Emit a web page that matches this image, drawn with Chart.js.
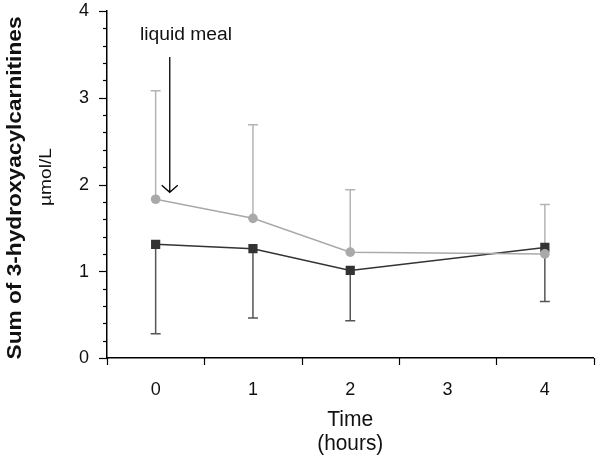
<!DOCTYPE html>
<html><head><meta charset="utf-8">
<script src="https://cdn.jsdelivr.net/npm/chart.js@4"></script>
<style>html,body{margin:0;padding:0;background:#fff}#wrap{width:600px;height:458px}</style>
</head><body><div id="wrap"><canvas id="c" width="600" height="458"></canvas></div>
<script>
// ---- data ----
const timePoints = [0, 1, 2, 4];
const grayMeans  = [1.83, 1.61, 1.22, 1.20];
const grayUpper  = [3.08, 2.69, 1.94, 1.77];
const blackMeans = [1.31, 1.26, 1.01, 1.275];
const blackLower = [0.28, 0.46, 0.43, 0.65];
const xTickValues = [0, 1, 2, 3, 4];
const xTickLabels = ['0', '1', '2', '3', '4'];
const yTickValues = [0, 1, 2, 3, 4];
const yTickLabels = ['0', '1', '2', '3', '4'];
const yMinorStep = 0.2;
const xBoundaryTicks = [-0.5, 0.5, 1.5, 2.5, 3.5, 4.5];
const annotationText = 'liquid meal';
const annotationX = 0.145, annotationYTop = 3.47, annotationYTip = 1.91;

const GRAY = '#a9a9a9', GRAY_BAR = '#b4b4b4';
const BLACK = '#333333', BLACK_BAR = '#555555';

const pts = (xs, ys) => xs.map((x, i) => ({x, y: ys[i]}));

// draws text centred on cx, baseline at by, stretched to targetW
function fitText(ctx, text, cx, by, targetW, rotate) {
  ctx.save();
  ctx.translate(cx, by);
  if (rotate) ctx.rotate(-Math.PI / 2);
  const w = ctx.measureText(text).width;
  ctx.scale(targetW / w, 1);
  ctx.textAlign = 'center'; ctx.textBaseline = 'alphabetic';
  ctx.fillText(text, 0, 0);
  ctx.restore();
}

const extras = {
  id: 'extras',
  beforeDatasetsDraw(chart) {
    const {ctx, scales: {x, y}} = chart;
    ctx.save();
    ctx.lineWidth = 1.5;
    const bar = (xv, y0, y1, col) => {
      const px = x.getPixelForValue(xv), p0 = y.getPixelForValue(y0), p1 = y.getPixelForValue(y1);
      ctx.strokeStyle = col;
      ctx.beginPath(); ctx.moveTo(px, p0); ctx.lineTo(px, p1);
      ctx.moveTo(px - 5, p1); ctx.lineTo(px + 5, p1); ctx.stroke();
    };
    timePoints.forEach((t, i) => bar(t, grayMeans[i], grayUpper[i], GRAY_BAR));
    timePoints.forEach((t, i) => bar(t, blackMeans[i], blackLower[i], BLACK_BAR));
    ctx.restore();
  },
  afterDraw(chart) {
    const {ctx, scales: {x, y}} = chart;
    ctx.save();
    ctx.strokeStyle = '#000'; ctx.lineWidth = 1.2;
    // y ticks
    const ax = x.left;
    for (let v = 0; v <= 4.0001; v += yMinorStep) {
      const py = Math.round(y.getPixelForValue(v)) + 0.5;
      const major = Math.abs(v - Math.round(v)) < 1e-6;
      ctx.beginPath(); ctx.moveTo(ax, py); ctx.lineTo(ax - (major ? 8 : 4), py); ctx.stroke();
    }
    // y tick labels
    ctx.fillStyle = '#111';
    ctx.font = '18px "Liberation Sans"';
    ctx.textAlign = 'right'; ctx.textBaseline = 'middle';
    yTickValues.forEach((v, i) => ctx.fillText(yTickLabels[i], ax - 18, y.getPixelForValue(v) + 0.5));
    // x ticks
    const ay = y.bottom;
    xBoundaryTicks.forEach(v => {
      const px = Math.round(x.getPixelForValue(v)) + 0.5;
      ctx.beginPath(); ctx.moveTo(px, ay); ctx.lineTo(px, ay + 7); ctx.stroke();
    });
    // annotation arrow
    const axp = x.getPixelForValue(annotationX);
    const yTop = y.getPixelForValue(annotationYTop), yTip = y.getPixelForValue(annotationYTip);
    ctx.lineWidth = 1.3;
    ctx.beginPath(); ctx.moveTo(axp, yTop); ctx.lineTo(axp, yTip);
    ctx.moveTo(axp - 8, yTip - 7); ctx.lineTo(axp, yTip); ctx.lineTo(axp + 8, yTip - 7);
    ctx.stroke();
    ctx.font = '18px "Liberation Sans"';
    fitText(ctx, annotationText, 186, 40, 92, false);
    // x title
    ctx.font = '22px "Liberation Sans"';
    const cx = x.getPixelForValue(2);
    fitText(ctx, 'Time', cx, 426, 46, false);
    fitText(ctx, '(hours)', cx, 450, 66, false);
    // y title
    ctx.font = 'bold 21px "Liberation Sans"';
    fitText(ctx, 'Sum of 3-hydroxyacylcarnitines', 21, 188, 343, true);
    ctx.font = '17px "Liberation Sans"';
    fitText(ctx, '\u00B5mol/L', 51, 177, 58, true);
    ctx.restore();
  }
};

new Chart(document.getElementById('c'), {
  type: 'line',
  data: {
    datasets: [
      { data: pts(timePoints, grayMeans), borderColor: GRAY, backgroundColor: GRAY, borderWidth: 1.5,
        pointStyle: 'circle', pointRadius: 4.8, pointBorderWidth: 0, tension: 0 },
      { data: pts(timePoints, blackMeans), borderColor: BLACK, backgroundColor: BLACK, borderWidth: 1.5,
        pointStyle: 'rect', pointRadius: 6.5, pointBorderWidth: 0, tension: 0 }
    ]
  },
  options: {
    responsive: false, animation: false, devicePixelRatio: 1,
    layout: { padding: { top: 11, right: 3, left: 0, bottom: 0 } },
    plugins: { legend: { display: false }, tooltip: { enabled: false } },
    scales: {
      x: {
        type: 'linear', min: -0.5, max: 4.5,
        afterBuildTicks: s => { s.ticks = xTickValues.map(v => ({value: v})); },
        afterFit: s => { s.height = 100; },
        grid: { display: false },
        border: { display: true, color: '#000', width: 1.5 },
        ticks: { padding: 13, color: '#111', font: { family: 'Liberation Sans', size: 18 },
          callback: (v, i) => xTickLabels[i] }
      },
      y: {
        type: 'linear', min: 0, max: 4,
        afterBuildTicks: s => { s.ticks = yTickValues.map(v => ({value: v})); },
        afterFit: s => { s.width = 107; },
        grid: { display: false },
        border: { display: true, color: '#000', width: 1.5 },
        ticks: { display: false }
      }
    }
  },
  plugins: [extras]
});
</script></body></html>
